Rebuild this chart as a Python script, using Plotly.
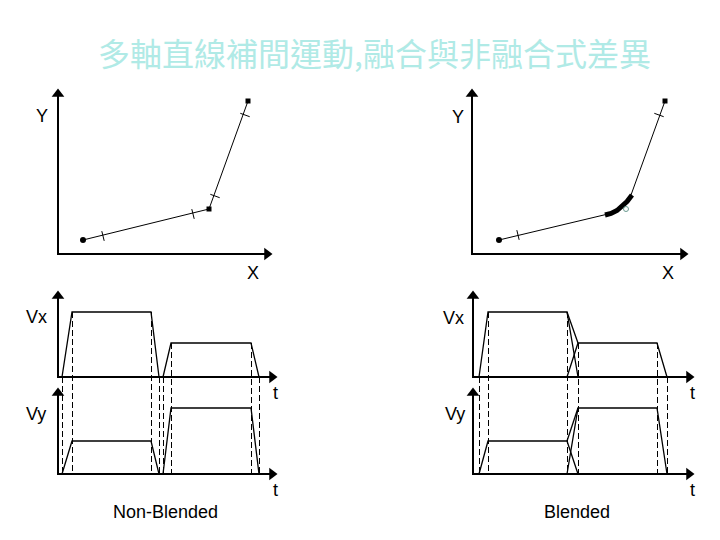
import plotly.graph_objects as go

# ---- data (diagram coordinates in a 720x540 canvas space) ----
# Path plots: start, corner, end points
path_nb_x = [83, 209, 248]
path_nb_y = [240, 209, 101]
path_b_x = [499, 608, 631, 665]
path_b_y = [240, 214, 195, 101]
blend_curve_x = [605, 611, 617, 622, 627, 632]
blend_curve_y = [215, 213.5, 210.5, 206.5, 201.5, 195]
ticks_nb = [(103, 236), (193, 214), (215, 196), (245, 115)]
ticks_b = [(518, 235), (659, 115)]

# Velocity profiles (non-blended)
vx_nb_1_t = [62, 72, 151, 159]
vx_nb_1_v = [377, 312, 312, 377]
vx_nb_2_t = [163, 171, 251, 259]
vx_nb_2_v = [377, 343, 343, 377]
vy_nb_1_t = [62, 72, 151, 159]
vy_nb_1_v = [474, 441, 441, 474]
vy_nb_2_t = [163, 171, 251, 259]
vy_nb_2_v = [474, 408, 408, 474]
dash_nb_t = [62, 72, 151, 159, 163, 171, 251, 259]
dash_nb_top = [377, 312, 312, 377, 377, 343, 343, 377]

# Velocity profiles (blended)
vx_b_1_t = [479, 488, 567, 578]
vx_b_1_v = [377, 312, 312, 377]
vx_b_2_t = [567, 578, 657, 667]
vx_b_2_v = [377, 343, 343, 377]
vx_b_mix_t = [567, 578]
vx_b_mix_v = [312, 343]
vy_b_1_t = [479, 488, 567, 578]
vy_b_1_v = [474, 441, 441, 474]
vy_b_2_t = [567, 578, 657, 667]
vy_b_2_v = [474, 408, 408, 474]
vy_b_mix_t = [567, 578]
vy_b_mix_v = [441, 408]
dash_b_t = [479, 488, 567, 578, 657, 667]
dash_b_top = [377, 312, 312, 343, 343, 377]
dash_bottom = 474

# Axes: (origin x, origin y, top y, right x)
axes_list = [
    (58, 254, 94, 267),
    (472, 254, 94, 683),
    (58, 377, 296, 272),
    (58, 474, 393, 272),
    (473, 377, 296, 689),
    (473, 474, 393, 689),
]

labels = [
    ("Y", 42, 116), ("X", 253, 273), ("Y", 458, 117), ("X", 668, 273),
    ("Vx", 36, 317), ("Vy", 36, 414), ("t", 275, 393), ("t", 275, 490),
    ("Vx", 453, 318), ("Vy", 455, 414), ("t", 692, 393), ("t", 692, 490),
    ("Non-Blended", 165, 512), ("Blended", 577, 512),
]
title_text = "多軸直線補間運動,融合與非融合式差異"

# page body has an 8px margin; offset the canvas ranges so marks land on the same pixels
OFF = 8

fig = go.Figure()
BLACK = "black"

def line(xs, ys, width=1, dash=None, color=BLACK):
    fig.add_trace(go.Scatter(x=xs, y=ys, mode="lines",
                             line=dict(color=color, width=width, dash=dash),
                             hoverinfo="skip", showlegend=False))

# axes with arrowheads
for ox, oy, ty, rx in axes_list:
    line([ox, ox, rx], [ty, oy, oy], width=2)
    fig.add_trace(go.Scatter(x=[ox], y=[ty], mode="markers",
                             marker=dict(symbol="triangle-up", size=11, color=BLACK),
                             hoverinfo="skip", showlegend=False))
    fig.add_trace(go.Scatter(x=[rx], y=[oy], mode="markers",
                             marker=dict(symbol="triangle-right", size=11, color=BLACK),
                             hoverinfo="skip", showlegend=False))

# paths
line(path_nb_x, path_nb_y)
line([path_b_x[0], path_b_x[1]], [path_b_y[0], path_b_y[1]])
line([path_b_x[2], path_b_x[3]], [path_b_y[2], path_b_y[3]])
line(blend_curve_x, blend_curve_y, width=5)
fig.add_trace(go.Scatter(x=[626], y=[209], mode="markers",
                         marker=dict(symbol="circle-open", size=5, color="#6a9a90"),
                         hoverinfo="skip", showlegend=False))

# end-point markers
fig.add_trace(go.Scatter(x=[path_nb_x[0], path_b_x[0]], y=[path_nb_y[0], path_b_y[0]],
                         mode="markers", marker=dict(symbol="circle", size=6, color=BLACK),
                         hoverinfo="skip", showlegend=False))
fig.add_trace(go.Scatter(x=[path_nb_x[1], path_nb_x[2], path_b_x[3]],
                         y=[path_nb_y[1], path_nb_y[2], path_b_y[3]],
                         mode="markers", marker=dict(symbol="square", size=5, color=BLACK),
                         hoverinfo="skip", showlegend=False))

# small tick marks across path segments
def seg_dir(px, py, xs, ys):
    best = None
    for i in range(len(xs) - 1):
        x0, y0, x1, y1 = xs[i], ys[i], xs[i + 1], ys[i + 1]
        dx, dy = x1 - x0, y1 - y0
        L2 = dx * dx + dy * dy
        t = max(0, min(1, ((px - x0) * dx + (py - y0) * dy) / L2))
        qx, qy = x0 + t * dx, y0 + t * dy
        d = (qx - px) ** 2 + (qy - py) ** 2
        if best is None or d < best[0]:
            L = L2 ** 0.5
            best = (d, dx / L, dy / L)
    return best[1], best[2]

for (px, py), (xs, ys) in [(t, (path_nb_x, path_nb_y)) for t in ticks_nb] + \
                          [(t, (path_b_x, path_b_y)) for t in ticks_b]:
    ux, uy = seg_dir(px, py, xs, ys)
    nx, ny = -uy, ux
    h = 5
    line([px - nx * h, px + nx * h], [py - ny * h, py + ny * h])

# velocity profiles
for xs, ys in [(vx_nb_1_t, vx_nb_1_v), (vx_nb_2_t, vx_nb_2_v),
               (vy_nb_1_t, vy_nb_1_v), (vy_nb_2_t, vy_nb_2_v),
               (vx_b_1_t, vx_b_1_v), (vx_b_2_t, vx_b_2_v), (vx_b_mix_t, vx_b_mix_v),
               (vy_b_1_t, vy_b_1_v), (vy_b_2_t, vy_b_2_v), (vy_b_mix_t, vy_b_mix_v)]:
    line(xs, ys, width=1.3)

for ts, tops in [(dash_nb_t, dash_nb_top), (dash_b_t, dash_b_top)]:
    for t, top in zip(ts, tops):
        line([t + 0.5, t + 0.5], [top, dash_bottom], width=1, dash="6px,3px")

annotations = [dict(x=x, y=y, text=s, showarrow=False, xref="x", yref="y",
                    font=dict(family="Liberation Sans, Arial", size=18, color=BLACK))
               for s, x, y in labels]
annotations.append(dict(x=374, y=52, text=title_text, showarrow=False, xref="x", yref="y",
                        font=dict(family="Noto Sans CJK TC", size=32, color="#b0eae6")))

fig.update_layout(
    width=720, height=540,
    margin=dict(l=0, r=0, t=0, b=0),
    paper_bgcolor="white", plot_bgcolor="white",
    xaxis=dict(range=[OFF, 720 + OFF], visible=False, fixedrange=True),
    yaxis=dict(range=[540 + OFF, OFF], visible=False, fixedrange=True),
    annotations=annotations,
    showlegend=False,
)
fig.write_html("out.html")
